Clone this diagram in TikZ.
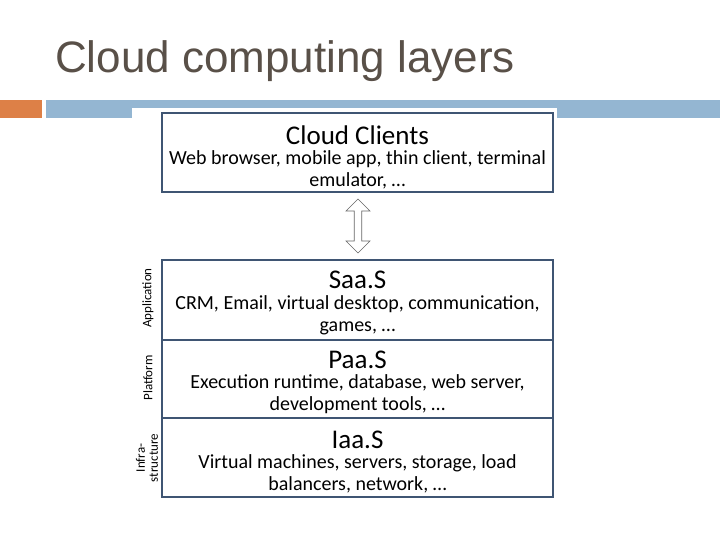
\documentclass[tikz,border=0pt]{standalone}
\usepackage{fontspec}
\setmainfont{Carlito}
\newfontfamily\titlefont{Liberation Sans}
\usetikzlibrary{shapes.arrows}
\definecolor{orng}{HTML}{DD8047}
\definecolor{bar}{HTML}{94B6D2}
\definecolor{frame}{HTML}{3F5573}
\definecolor{ttl}{HTML}{595048}
\begin{document}
\begin{tikzpicture}[x=1pt,y=-1pt,
  box/.style={draw=frame,line width=2.2pt},
  head/.style={font=\fontsize{27}{29}\selectfont},
  body/.style={font=\fontsize{20}{22}\selectfont,align=center},
  side/.style={font=\fontsize{13}{13}\selectfont,rotate=90,align=center}]
\useasboundingbox (0,0) rectangle (720,540);
\node[anchor=base west,font=\titlefont\fontsize{44}{46}\selectfont,text=ttl,inner sep=0] (title) at (55,73) {Cloud computing layers};
\fill[orng] (0,100) rectangle (42,118);
\fill[bar] (46,100) rectangle (720,118);
\fill[white] (132,108) rectangle (557,540);
\draw[box] (162,113) rectangle (553,192);
\node[head] (cc) at (357.5,135) {Cloud Clients};
\node[body] (ccb) at (357.5,170) {Web browser, mobile app, thin client, terminal\\emulator, \dots};
\draw[box] (162,260) rectangle (553,497);
\draw[box] (162,340) -- (553,340);
\draw[box] (162,418) -- (553,418);
\node[head] (saas) at (357.5,280) {Saa.S};
\node[body] (saasb) at (357.5,315) {CRM, Email, virtual desktop, communication,\\games, \dots};
\node[head] (paas) at (357.5,360) {Paa.S};
\node[body] (paasb) at (357.5,394) {Execution runtime, database, web server,\\development tools, \dots};
\node[head] (iaas) at (357.5,440) {Iaa.S};
\node[body] (iaasb) at (357.5,474) {Virtual machines, servers, storage, load\\balancers, network, \dots};
\node[side] (app) at (148,298) {Application};
\node[side] (plat) at (148,378) {Platform};
\node[side] (inf) at (147,458) {Infra-\\structure};
\node[double arrow,draw=gray!80!black,fill=white,minimum width=24pt,double arrow head extend=5pt,minimum height=54pt,inner sep=2pt,rotate=90,line width=0.6pt] (arr) at (358,226) {};
\end{tikzpicture}
\end{document}
